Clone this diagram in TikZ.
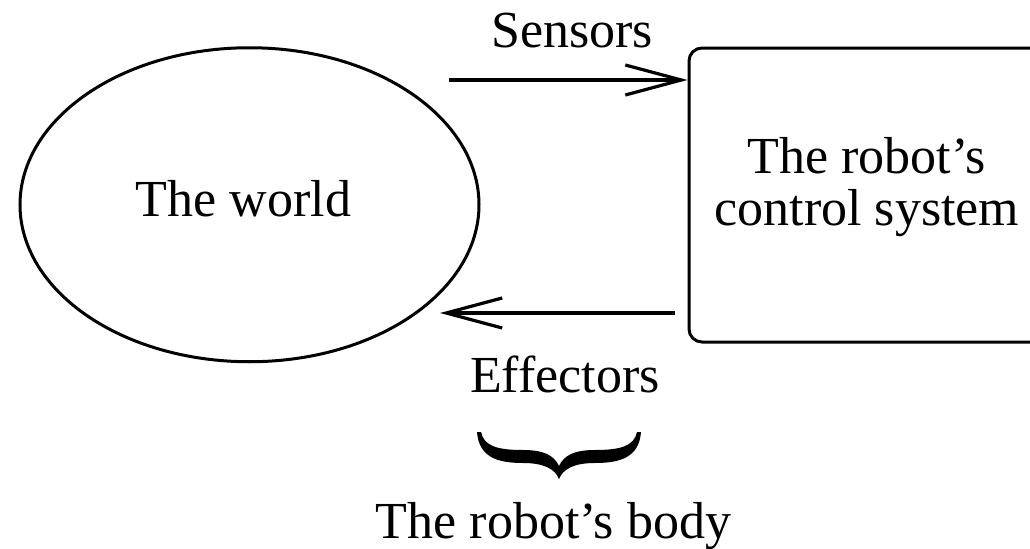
\documentclass[tikz,border=0pt]{standalone}
\usepackage{fontspec}
\setmainfont{Liberation Serif}
\usetikzlibrary{shapes.geometric,arrows.meta}

\begin{document}
\begin{tikzpicture}[x=0.5pt,y=0.5pt]
\tikzstyle{world}=[ellipse, draw=black, line width=1.5pt, inner sep=0pt, minimum width=229.5pt, minimum height=157pt]
\tikzstyle{system}=[rectangle, draw=black, line width=1.5pt, rounded corners=6.5pt, minimum width=178pt, minimum height=147pt]
\tikzstyle{txt}=[inner sep=0pt, anchor=base, font=\fontsize{26}{26}\selectfont]
\tikzstyle{connect}=[-{Straight Barb[length=28pt,width=15pt]}, line width=1.6pt]
\useasboundingbox (0,0) rectangle (1030,548);
  \node[world] (w) at (249.5,343.25) {};
  \node[txt] (wlab) at (243.5,332) {The world};
  \node[system] (cs) at (867,353) {};
  \node[txt, align=center, anchor=center] (cslab) at (867,361) {The robot's\\control system};
  % sensing and acting
  \coordinate (s0) at (449,468);
  \coordinate (e0) at (675,235);
  \coordinate (e1) at (440,235);
  \draw[connect] (s0) -- (cs.west |- s0);
  \draw[connect] (e0) -- (e1);
  \node[txt] (sens) at (572,501) {Sensors};
  \node[txt] (eff) at (565,156) {Effectors};
  % brace under the effectors
  \begin{scope}[shift={(559,69)}]
  \fill (-82,47) .. controls (-80,22) and (-62,16) .. (-36,16)
        .. controls (-15,16) and (-4,10) .. (0,0)
        .. controls (4,10) and (15,16) .. (36,16)
        .. controls (62,16) and (80,22) .. (82,47)
        -- (78,47) .. controls (75,33) and (62,29) .. (36,29)
        .. controls (16,29) and (5,24) .. (0,13)
        .. controls (-5,24) and (-16,29) .. (-36,29)
        .. controls (-62,29) and (-75,33) .. (-78,47) -- cycle;
  \end{scope}
  \node[txt] (body) at (553.5,10) {The robot's body};
\end{tikzpicture}
\end{document}
